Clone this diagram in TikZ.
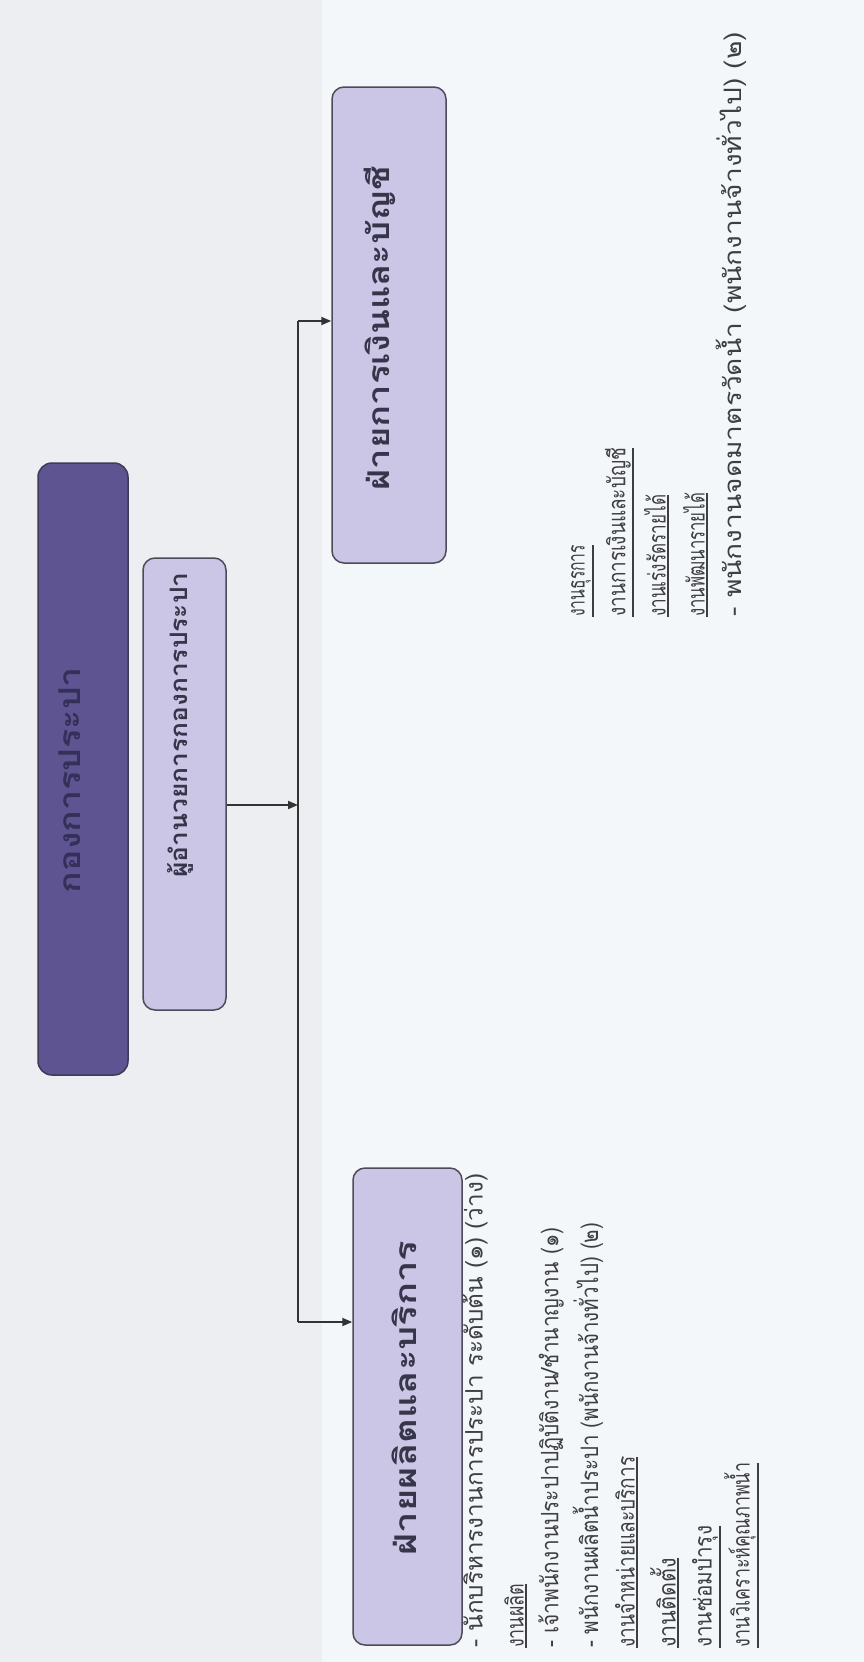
\documentclass[tikz,border=0pt]{standalone}
\usepackage{fontspec}
\usepackage{graphicx}
\usetikzlibrary{arrows.meta,calc}
\newfontfamily\thaifont[Script=Thai]{Loma}
\definecolor{bgL}{HTML}{ECEEF1}
\definecolor{bgR}{HTML}{F4F7F9}
\definecolor{darkfill}{HTML}{5E5492}
\definecolor{darkedge}{HTML}{3E3A58}
\definecolor{darktext}{HTML}{34305A}
\definecolor{lightfill}{HTML}{CBC5E6}
\definecolor{lightedge}{HTML}{4D4B5A}
\definecolor{lighttext}{HTML}{36354A}
\definecolor{listtext}{HTML}{3E3E44}
\definecolor{linec}{HTML}{333333}
\newcommand{\fitw}[2]{\resizebox{#1pt}{\height}{#2}}
\begin{document}
\begin{tikzpicture}[x=1pt,y=-1pt,
  darkbox/.style={draw=darkedge, fill=darkfill, line width=1.5pt, rounded corners=14pt, rotate=90, inner sep=0pt},
  lightbox/.style={draw=lightedge, fill=lightfill, line width=1.5pt, rounded corners=12pt, rotate=90, inner sep=0pt},
  boxlabel/.style={rotate=90, inner sep=0pt, font=\thaifont\bfseries\fontsize{30}{36}\selectfont},
  item/.style={rotate=90, anchor=west, inner sep=0pt, text=listtext, font=\thaifont\fontsize{24}{28}\selectfont},
  ul/.style={draw=listtext, line width=1.5pt},
  conn/.style={draw=linec, line width=1.8pt},
  arr/.style={conn, -{Triangle[length=10pt,width=8pt]}}
]
\useasboundingbox (0,0) rectangle (864,1662);
\fill[bgR] (0,0) rectangle (864,1662);
\fill[bgL] (0,0) rectangle (322,1662);

% boxes
\node[darkbox, minimum width=612pt, minimum height=90pt] (top) at (83,769) {};
\node[boxlabel, text=darktext] (topT) at (70,780) {\fitw{226}{กองการประปา}};

\node[lightbox, minimum width=452pt, minimum height=83pt] (dir) at (184.5,784) {};
\node[boxlabel, text=lighttext, font=\thaifont\bfseries\fontsize{24}{28}\selectfont] (dirT) at (180,725) {\fitw{305}{ผู้อำนวยการกองการประปา}};

\node[lightbox, minimum width=476pt, minimum height=114pt] (fin) at (389,325) {};
\node[boxlabel, text=lighttext] (finT) at (380,328) {\fitw{325}{ฝ่ายการเงินและบัญชี}};

\node[lightbox, minimum width=477pt, minimum height=109pt] (prod) at (407.5,1406.5) {};
\node[boxlabel, text=lighttext] (prodT) at (404,1398) {\fitw{315}{ฝ่ายผลิตและบริการ}};

% connectors
\coordinate (tA) at (298,321);
\coordinate (tB) at (298,1322);
\coordinate (tM) at (298,805);
\draw[conn] (tA) -- (tB);
\draw[arr] (dir.south |- tM) -- (tM);
\draw[arr] (tA) -- (fin.north |- tA);
\draw[arr] (tB) -- (prod.north |- tB);

% left list
\node[item] (l1) at (475,1648) {\fitw{474}{- นักบริหารงานการประปา ระดับต้น (๑) (ว่าง)}};
\node[item] (l2) at (514,1648) {\fitw{64}{งานผลิต}};
\node[item] (l3) at (551,1648) {\fitw{420}{- เจ้าพนักงานประปาปฏิบัติงาน/ชำนาญงาน (๑)}};
\node[item] (l4) at (588,1648) {\fitw{425}{- พนักงานผลิตน้ำประปา (พนักงานจ้างทั่วไป) (๒)}};
\node[item] (l5) at (625,1648) {\fitw{191}{งานจำหน่ายและบริการ}};
\node[item] (l6) at (663,1648) {\fitw{90}{งานติดตั้ง}};
\node[item] (l7) at (705,1648) {\fitw{122}{งานซ่อมบำรุง}};
\node[item] (l8) at (740,1648) {\fitw{185}{งานวิเคราะห์คุณภาพน้ำ}};

% right list
\node[item] (r1) at (581,617) {\fitw{72}{งานธุรการ}};
\node[item] (r2) at (618,617) {\fitw{169}{งานการเงินและบัญชี}};
\node[item] (r3) at (655,617) {\fitw{122}{งานเร่งรัดรายได้}};
\node[item] (r4) at (694,617) {\fitw{124}{งานพัฒนารายได้}};
\node[item] (r5) at (731,617) {\fitw{585}{- พนักงานจดมาตรวัดน้ำ (พนักงานจ้างทั่วไป) (๒)}};

% underlines
\foreach \n in {l2,l5,l6,l7,l8,r1,r2,r3,r4}{
  \draw[ul] ($(\n.south west)+(2,0)$) -- ($(\n.south east)+(2,0)$);
}
\end{tikzpicture}
\end{document}
